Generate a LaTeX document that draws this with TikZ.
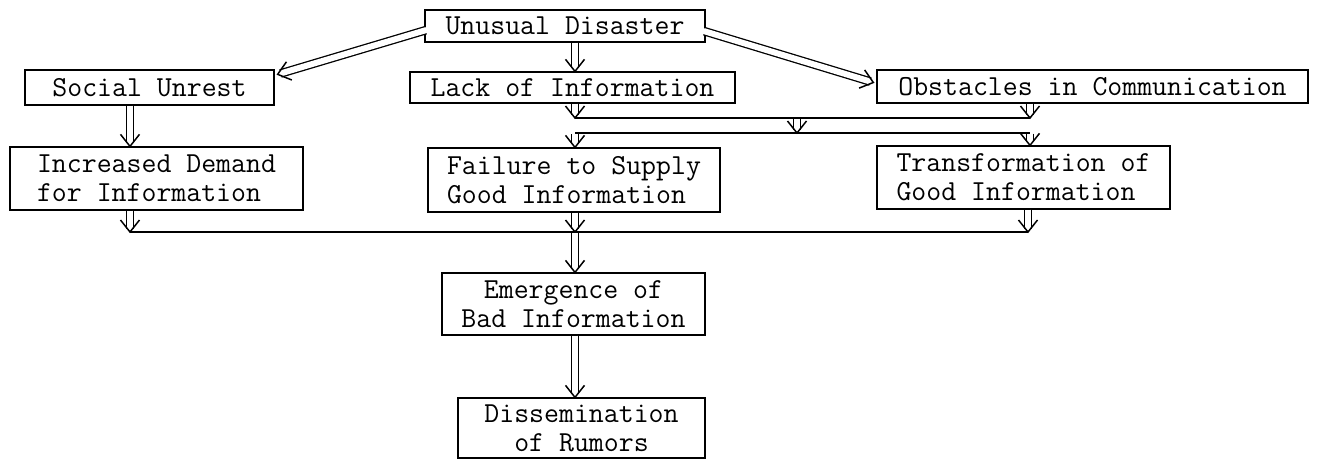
\documentclass[tikz,border=0pt]{standalone}
\usetikzlibrary{calc,decorations.markings}
\begin{document}
\begin{tikzpicture}[x=1pt,y=-1pt,
  box/.style={draw, line width=1.3pt, inner sep=0pt, align=left,
    font=\ttfamily\fontsize{29}{29}\selectfont},
  % hollow double shaft with an open V head
  dbl/.style={draw, line width=8.6pt, shorten >=3pt, shorten <=0.7pt,
    postaction={draw=white, line width=6pt, shorten >=2.5pt, shorten <=0pt},
    postaction={decorate, decoration={markings, mark=at position 1 with
      {\draw[line width=1.5pt, shorten >=0pt, shorten <=0pt, line join=miter]
         (-12pt,9.5pt) -- (0pt,0pt) -- (-12pt,-9.5pt);}}}},
  bar/.style={line width=2pt}]
\useasboundingbox (0,0) rectangle (1318,460);

% boxes
\node[box, minimum width=280pt, minimum height=32pt] (disaster) at (565,26) {Unusual Disaster};
\node[box, minimum width=249pt, minimum height=35pt] (social) at (149.5,87.5) {Social Unrest};
\node[box, minimum width=325pt, minimum height=31pt] (lack) at (572.5,87.5) {Lack of Information};
\node[box, minimum width=431pt, minimum height=33pt] (obstacles) at (1092.5,86.5) {Obstacles in Communication};
\node[box, minimum width=293pt, minimum height=63pt] (demand) at (156.5,178.5) {Increased Demand\\for Information};
\node[box, minimum width=292pt, minimum height=64pt] (failure) at (574,180) {Failure to Supply\\Good Information};
\node[box, minimum width=293pt, minimum height=63pt] (transform) at (1023.5,177.5) {Transformation of\\Good Information};
\node[box, align=center, minimum width=263pt, minimum height=62pt] (emergence) at (573.5,304) {Emergence of\\Bad Information};
\node[box, align=center, minimum width=247pt, minimum height=60pt] (dissem) at (581.5,428) {Dissemination\\of Rumors};

% junction points
\coordinate (j1) at (575,118);
\coordinate (j1e) at (1030,118);
\coordinate (m1) at (797,118);
\coordinate (m2) at (797,133);
\coordinate (j2) at (575,133);
\coordinate (j2e) at (1030,133);
\coordinate (j3w) at (130,232);
\coordinate (j3) at (575,232);
\coordinate (j3e) at (1028,232);

% arrows
\draw[dbl] (disaster.south -| j1) -- (lack.north -| j1);
\draw[dbl] ($(disaster.west)+(2,4)$) -- ($(social.north east)+(3,5)$);
\draw[dbl] ($(disaster.east)+(-2,5)$) -- ($(obstacles.west)+(-3,-4)$);
\draw[dbl] (social.south -| j3w) -- (demand.north -| j3w);
\draw[dbl] (lack.south -| j1) -- (j1);
\draw[dbl] (obstacles.south -| j1e) -- (j1e);
\draw[dbl] (m1) -- (m2);
\draw[dbl] (j2) -- (failure.north -| j2);
\draw[dbl] (j2e) -- (transform.north -| j2e);
\draw[dbl] (demand.south -| j3w) -- (j3w);
\draw[dbl] (failure.south -| j3) -- (j3);
\draw[dbl] (transform.south -| j3e) -- (j3e);
\draw[dbl] (j3) -- (emergence.north -| j3);
\draw[dbl] (emergence.south -| j3) -- (dissem.north -| j3);

% junction bars
\draw[bar] (j1) -- (j1e);
\draw[bar] (j2) -- (j2e);
\draw[bar] (j3w) -- (j3e);
\end{tikzpicture}
\end{document}
